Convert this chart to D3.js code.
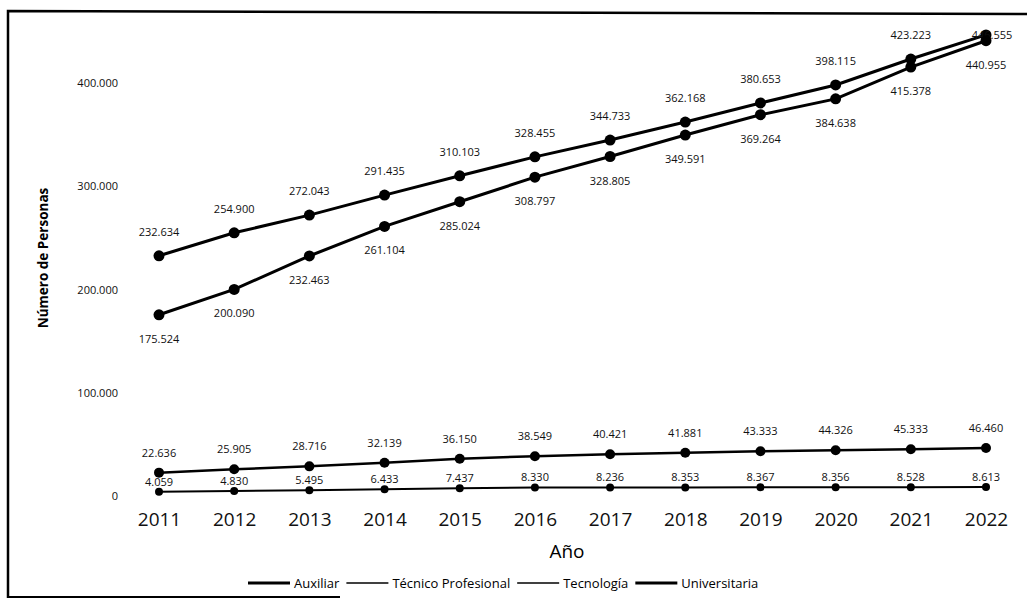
<!DOCTYPE html>
<html>
<head>
<meta charset="utf-8">
<script src="https://cdn.jsdelivr.net/npm/d3@7"></script>
<style>
  body { margin: 0; background: #fff; }
  svg { font-family: "Open Sans", sans-serif; }
</style>
</head>
<body>
<div id="chart"></div>
<script>
const years = [2011, 2012, 2013, 2014, 2015, 2016, 2017, 2018, 2019, 2020, 2021, 2022];
const universitaria = [232634, 254900, 272043, 291435, 310103, 328455, 344733, 362168, 380653, 398115, 423223, 446555];
const auxiliar = [175524, 200090, 232463, 261104, 285024, 308797, 328805, 349591, 369264, 384638, 415378, 440955];
const tecnologia = [22636, 25905, 28716, 32139, 36150, 38549, 40421, 41881, 43333, 44326, 45333, 46460];
const tecnicoProfesional = [4059, 4830, 5495, 6433, 7437, 8330, 8236, 8353, 8367, 8356, 8528, 8613];
const yTicks = [0, 100000, 200000, 300000, 400000];
const legendNames = ['Auxiliar', 'Técnico Profesional', 'Tecnología', 'Universitaria'];

const W = 1027, H = 602;
const loc = d3.formatLocale({decimal: ',', thousands: '.', grouping: [3], currency: ['$', '']});
const fmt = loc.format(',d');

const svg = d3.select('#chart').append('svg')
    .attr('width', W)
    .attr('height', H);

// frame around the scanned figure
svg.append('path')
    .attr('d', 'M8,598 L8,11 L1027,14')
    .attr('fill', 'none')
    .attr('stroke', '#000')
    .attr('stroke-width', 2.5);
svg.append('line')
    .attr('x1', 8).attr('x2', 340).attr('y1', 597).attr('y2', 597)
    .attr('stroke', '#000').attr('stroke-width', 2);

var x = d3.scaleLinear().domain([2011, 2022]).range([159, 986]);
var y = d3.scaleLinear().domain([0, 400000]).range([496, 83]);

// series: values, line width, marker radius, label offset
const series = [
    {name: 'Universitaria', values: universitaria, w: 3, r: 5.5, dy: -20},
    {name: 'Auxiliar', values: auxiliar, w: 3, r: 5.5, dy: 28},
    {name: 'Tecnología', values: tecnologia, w: 2.5, r: 5, dy: -16},
    {name: 'Técnico Profesional', values: tecnicoProfesional, w: 2, r: 4, dy: -6}
];

// Y axis
var yAxis = svg.append('g')
    .attr('transform', 'translate(122,0)')
    .call(d3.axisLeft(y).tickValues(yTicks).tickSize(0).tickPadding(4).tickFormat(fmt));
yAxis.select('.domain').remove();
yAxis.selectAll('text')
    .style('font-size', '11px')
    .style('font-family', '"Open Sans", sans-serif')
    .attr('fill', '#111');

// X axis
var xAxis = svg.append('g')
    .attr('transform', 'translate(0,495)')
    .call(d3.axisBottom(x).tickValues(years).tickSize(0).tickPadding(18).tickFormat(d3.format('d')));
xAxis.select('.domain').remove();
xAxis.selectAll('text')
    .style('font-size', '19px')
    .style('font-family', '"Open Sans", sans-serif')
    .attr('fill', '#111');

// axis titles
svg.append('text')
    .attr('x', 567)
    .attr('y', 558)
    .attr('text-anchor', 'middle')
    .style('font-size', '19px')
    .text('Año');
svg.append('text')
    .attr('transform', 'translate(48,258) rotate(-90)')
    .attr('text-anchor', 'middle')
    .style('font-size', '13.5px')
    .style('font-weight', 'bold')
    .text('Número de Personas');

var line = d3.line()
    .x(function(d, i) { return x(years[i]); })
    .y(function(d) { return y(d); });

series.forEach(function(s) {
    svg.append('path')
        .datum(s.values)
        .attr('d', line)
        .attr('fill', 'none')
        .attr('stroke', '#000')
        .attr('stroke-width', s.w);

    svg.selectAll(null)
        .data(s.values)
        .enter().append('circle')
        .attr('cx', function(d, i) { return x(years[i]); })
        .attr('cy', function(d) { return y(d); })
        .attr('r', s.r)
        .attr('fill', '#000');

    svg.selectAll(null)
        .data(s.values)
        .enter().append('text')
        .attr('x', function(d, i) { return x(years[i]) + (s.name == 'Universitaria' && i == years.length - 1 ? 6 : 0); })
        .attr('y', function(d, i) {
            // last top label sits beside the point, not above it
            if (s.name == 'Universitaria' && i == years.length - 1) return y(d) + 4;
            return y(d) + s.dy;
        })
        .attr('text-anchor', 'middle')
        .style('font-size', '11px')
        .attr('fill', '#111')
        .text(function(d) { return fmt(d); });
});

// Handmade legend
var legend = svg.append('g').attr('transform', 'translate(248,583)');
var lx = 0;
legendNames.forEach(function(name) {
    var thick = (name == 'Auxiliar' || name == 'Universitaria');
    legend.append('line')
        .attr('x1', lx).attr('x2', lx + 42)
        .attr('y1', 0).attr('y2', 0)
        .attr('stroke', '#000')
        .attr('stroke-width', thick ? 3 : 1.5);
    var t = legend.append('text')
        .attr('x', lx + 46)
        .attr('y', 4.5)
        .style('font-size', '13px')
        .text(name);
    lx += 46 + t.node().getComputedTextLength() + 7;
});
</script>
</body>
</html>
